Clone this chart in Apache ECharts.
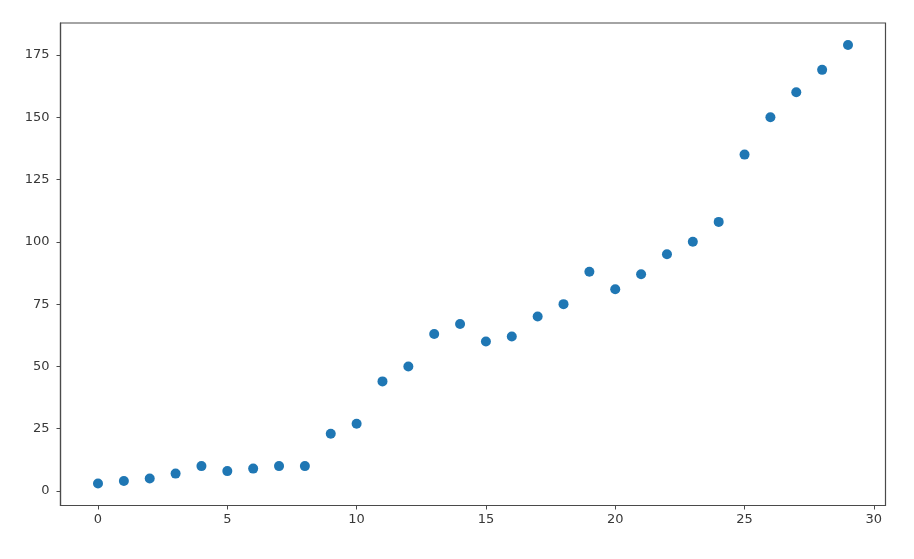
<!DOCTYPE html>
<html>
<head>
<meta charset="utf-8">
<script src="https://cdn.jsdelivr.net/npm/echarts@6/dist/echarts.min.js"></script>
<style>
html,body{margin:0;padding:0;background:#fff;}
#chart{width:914px;height:559px;}
</style>
</head>
<body>
<div id="chart"></div>
<script>
var xValues = [0,1,2,3,4,5,6,7,8,9,10,11,12,13,14,15,16,17,18,19,20,21,22,23,24,25,26,27,28,29];
var yValues = [3,4,5,7,10,8,9,10,10,23,27,44,50,63,67,60,62,70,75,88,81,87,95,100,108,135,150,160,169,179];
var xTicks = [0,5,10,15,20,25,30];
var yTicks = [0,25,50,75,100,125,150,175];

var points = xValues.map(function(x,i){return [x, yValues[i]];});

var chart = echarts.init(document.getElementById('chart'), null, {renderer:'canvas'});
var axisColor = '#4a4a4a';
var labelStyle = {color:'#383838', fontFamily:'DejaVu Sans', fontSize:13};
chart.setOption({
  animation:false,
  backgroundColor:'#fff',
  grid:{left:60.5, right:28.5, top:23, bottom:53.5, show:true, borderColor:axisColor, borderWidth:1.2, containLabel:false},
  xAxis:{
    type:'value', min:-1.45, max:30.45,
    axisLine:{show:true, onZero:false, lineStyle:{color:axisColor, width:1.2}},
    axisTick:{show:true, inside:false, length:4, customValues:xTicks, lineStyle:{color:axisColor}},
    axisLabel:Object.assign({margin:8, customValues:xTicks}, labelStyle),
    splitLine:{show:false}
  },
  yAxis:{
    type:'value', min:-5.8, max:187.8,
    axisLine:{show:true, onZero:false, lineStyle:{color:axisColor, width:1.2}},
    axisTick:{show:true, inside:false, length:4, customValues:yTicks, lineStyle:{color:axisColor}},
    axisLabel:Object.assign({margin:11, customValues:yTicks}, labelStyle),
    splitLine:{show:false}
  },
  series:[{
    type:'scatter',
    data:points,
    symbol:'circle',
    symbolSize:10,
    itemStyle:{color:'#1f77b4', opacity:1}
  }]
});
</script>
</body>
</html>
